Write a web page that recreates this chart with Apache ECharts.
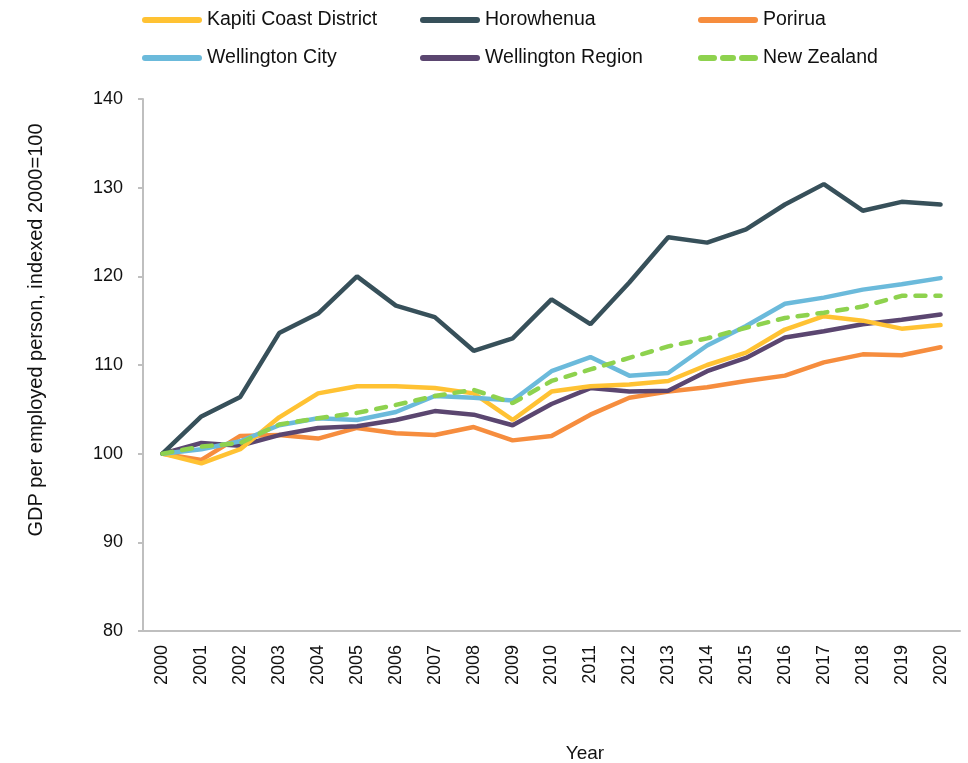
<!DOCTYPE html>
<html>
<head>
<meta charset="utf-8">
<script src="https://cdn.jsdelivr.net/npm/echarts@6/dist/echarts.min.js"></script>
<style>
  html, body { margin: 0; padding: 0; background: #fff; }
  #chart { width: 968px; height: 763px; }
</style>
</head>
<body>
<div id="chart"></div>
<script>
const years = ['2000','2001','2002','2003','2004','2005','2006','2007','2008','2009','2010',
  '2011','2012','2013','2014','2015','2016','2017','2018','2019','2020'];

const kapiti = [100, 98.9, 100.5, 104.1, 106.8, 107.6, 107.6, 107.4, 106.8, 103.8, 107.0,
  107.6, 107.8, 108.2, 110.0, 111.4, 114.0, 115.5, 115.0, 114.1, 114.5];
const horowhenua = [100, 104.2, 106.4, 113.6, 115.8, 120.0, 116.7, 115.4, 111.6, 113.0, 117.4,
  114.6, 119.3, 124.4, 123.8, 125.3, 128.1, 130.4, 127.4, 128.4, 128.1];
const porirua = [100, 99.3, 102.0, 102.1, 101.7, 102.9, 102.3, 102.1, 103.0, 101.5, 102.0,
  104.4, 106.3, 107.0, 107.5, 108.2, 108.8, 110.3, 111.2, 111.1, 112.0];
const wgtnCity = [100, 100.5, 101.4, 103.2, 104.0, 103.8, 104.7, 106.5, 106.3, 106.0, 109.3,
  110.9, 108.8, 109.1, 112.2, 114.4, 116.9, 117.6, 118.5, 119.1, 119.8];
const wgtnRegion = [100, 101.2, 100.9, 102.1, 102.9, 103.1, 103.8, 104.8, 104.4, 103.2, 105.6,
  107.4, 107.0, 107.1, 109.3, 110.8, 113.1, 113.8, 114.6, 115.1, 115.7];
const newZealand = [100, 100.8, 101.2, 103.3, 104.0, 104.6, 105.5, 106.5, 107.2, 105.7, 108.2,
  109.5, 110.8, 112.1, 113.0, 114.2, 115.3, 115.9, 116.6, 117.8, 117.8];

const font = 'Liberation Sans, Arial, sans-serif';
const solidIcon = 'path://M3,0h54a3,3 0 0 1 0,6h-54a3,3 0 0 1 0,-6z';
const dashIcon = 'path://M3,0h13a3,3 0 0 1 0,6h-13a3,3 0 0 1 0,-6z M25,0h10a3,3 0 0 1 0,6h-10a3,3 0 0 1 0,-6z M44,0h13a3,3 0 0 1 0,6h-13a3,3 0 0 1 0,-6z';

function line(name, data, color, dashed) {
  return {
    name: name,
    type: 'line',
    data: data,
    symbol: 'none',
    lineStyle: { color: color, width: 4.5, type: dashed ? [10, 10] : 'solid', cap: 'round' },
    itemStyle: { color: color },
    emphasis: { disabled: true }
  };
}

function legendCol(left, names) {
  return {
    left: left, top: 4, orient: 'vertical',
    itemWidth: 60, itemHeight: 6, itemGap: 16,
    symbolKeepAspect: false,
    textStyle: { fontFamily: font, fontSize: 19.5, lineHeight: 22, color: '#111' },
    data: names.map(n => ({ name: n, icon: n === 'New Zealand' ? dashIcon : solidIcon }))
  };
}

const chart = echarts.init(document.getElementById('chart'));
chart.setOption({
  animation: false,
  legend: [
    legendCol(137, ['Kapiti Coast District', 'Wellington City']),
    legendCol(415, ['Horowhenua', 'Wellington Region']),
    legendCol(693, ['Porirua', 'New Zealand'])
  ],
  grid: { left: 143, right: 8, top: 99, bottom: 132, outerBoundsMode: 'none' },
  xAxis: {
    type: 'category',
    data: years,
    boundaryGap: true,
    name: 'Year',
    nameLocation: 'middle',
    nameGap: 113,
    nameTextStyle: { fontFamily: font, fontSize: 19, color: '#111', padding: [0, 0, 0, 67] },
    axisLine: { lineStyle: { color: '#bfbfbf', width: 2 } },
    axisTick: { show: false },
    axisLabel: { rotate: 90, fontFamily: font, fontSize: 18, color: '#111', margin: 14 }
  },
  yAxis: {
    type: 'value',
    min: 80, max: 140, interval: 10,
    name: 'GDP per employed person, indexed 2000=100',
    nameLocation: 'middle',
    nameGap: 97,
    nameTextStyle: { fontFamily: font, fontSize: 20, color: '#111', padding: [0, 0, 0, 70] },
    axisLine: { show: true, lineStyle: { color: '#bfbfbf', width: 2 } },
    axisTick: { show: true, length: 5, lineStyle: { color: '#bfbfbf', width: 2 } },
    splitLine: { show: false },
    axisLabel: { fontFamily: font, fontSize: 18, color: '#111', margin: 20 }
  },
  series: [
    line('Porirua', porirua, '#F68D3E'),
    line('Wellington Region', wgtnRegion, '#5B4670'),
    line('Kapiti Coast District', kapiti, '#FFC233'),
    line('Wellington City', wgtnCity, '#6BBADB'),
    line('Horowhenua', horowhenua, '#37505A'),
    line('New Zealand', newZealand, '#8ED24E', true)
  ]
});
</script>
</body>
</html>
